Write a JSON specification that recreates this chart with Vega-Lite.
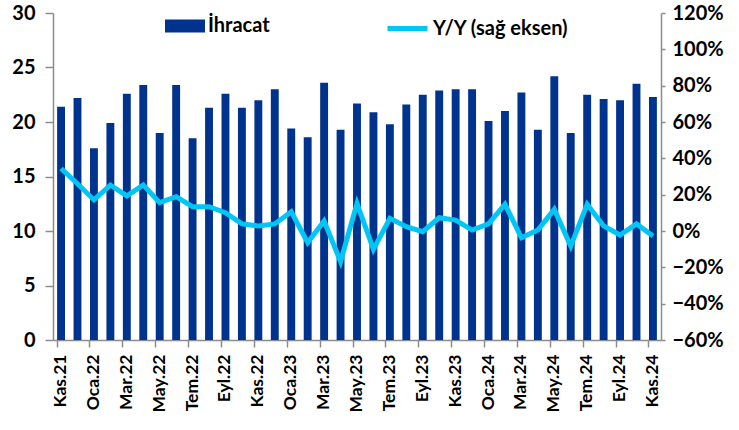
{
  "$schema": "https://vega.github.io/schema/vega-lite/v6.json",
  "autosize": {"type": "none"},
  "padding": {"left": 53, "top": 13, "right": 78, "bottom": 90},
  "width": 608,
  "height": 327,
  "background": "white",
  "config": {
    "view": {"stroke": null},
    "font": "Lato",
    "axis": {"labelFont": "Lato", "labelFontWeight": "bold", "labelColor": "#000000", "domainColor": "#8c8c8c", "tickColor": "#8c8c8c", "grid": false, "title": null, "domainWidth": 1.5, "tickWidth": 1.5},
    "legend": {"labelFont": "Lato", "labelFontWeight": "bold", "labelColor": "#000000", "labelFontSize": 20, "title": null}
  },
  "data": {
    "values": [
      {"ay": "Kas.21", "ihracat": 21.4, "yy": 0.344},
      {"ay": "Ara.21", "ihracat": 22.2, "yy": 0.26},
      {"ay": "Oca.22", "ihracat": 17.6, "yy": 0.171},
      {"ay": "Şub.22", "ihracat": 19.9, "yy": 0.253},
      {"ay": "Mar.22", "ihracat": 22.6, "yy": 0.193},
      {"ay": "Nis.22", "ihracat": 23.4, "yy": 0.253},
      {"ay": "May.22", "ihracat": 19.0, "yy": 0.156},
      {"ay": "Haz.22", "ihracat": 23.4, "yy": 0.189},
      {"ay": "Tem.22", "ihracat": 18.5, "yy": 0.134},
      {"ay": "Ağu.22", "ihracat": 21.3, "yy": 0.134},
      {"ay": "Eyl.22", "ihracat": 22.6, "yy": 0.101},
      {"ay": "Eki.22", "ihracat": 21.3, "yy": 0.039},
      {"ay": "Kas.22", "ihracat": 22.0, "yy": 0.028},
      {"ay": "Ara.22", "ihracat": 23.0, "yy": 0.039},
      {"ay": "Oca.23", "ihracat": 19.4, "yy": 0.106},
      {"ay": "Şub.23", "ihracat": 18.6, "yy": -0.064},
      {"ay": "Mar.23", "ihracat": 23.6, "yy": 0.055},
      {"ay": "Nis.23", "ihracat": 19.3, "yy": -0.169},
      {"ay": "May.23", "ihracat": 21.7, "yy": 0.152},
      {"ay": "Haz.23", "ihracat": 20.9, "yy": -0.101},
      {"ay": "Tem.23", "ihracat": 19.8, "yy": 0.07},
      {"ay": "Ağu.23", "ihracat": 21.6, "yy": 0.024},
      {"ay": "Eyl.23", "ihracat": 22.5, "yy": -0.004},
      {"ay": "Eki.23", "ihracat": 22.9, "yy": 0.073},
      {"ay": "Kas.23", "ihracat": 23.0, "yy": 0.06},
      {"ay": "Ara.23", "ihracat": 23.0, "yy": 0.005},
      {"ay": "Oca.24", "ihracat": 20.1, "yy": 0.039},
      {"ay": "Şub.24", "ihracat": 21.0, "yy": 0.147},
      {"ay": "Mar.24", "ihracat": 22.7, "yy": -0.037},
      {"ay": "Nis.24", "ihracat": 19.3, "yy": 0.005},
      {"ay": "May.24", "ihracat": 24.2, "yy": 0.119},
      {"ay": "Haz.24", "ihracat": 19.0, "yy": -0.083},
      {"ay": "Tem.24", "ihracat": 22.5, "yy": 0.147},
      {"ay": "Ağu.24", "ihracat": 22.1, "yy": 0.028},
      {"ay": "Eyl.24", "ihracat": 22.0, "yy": -0.022},
      {"ay": "Eki.24", "ihracat": 23.5, "yy": 0.039},
      {"ay": "Kas.24", "ihracat": 22.3, "yy": -0.028}
    ]
  },
  "encoding": {
    "x": {
      "field": "ay",
      "type": "ordinal",
      "sort": null,
      "scale": {"paddingInner": 0.52, "paddingOuter": 0.25},
      "axis": {
        "values": ["Kas.21", "Oca.22", "Mar.22", "May.22", "Tem.22", "Eyl.22", "Kas.22", "Oca.23", "Mar.23", "May.23", "Tem.23", "Eyl.23", "Kas.23", "Oca.24", "Mar.24", "May.24", "Tem.24", "Eyl.24", "Kas.24"],
        "bandPosition": 0,
        "labelAngle": -90,
        "labelFontSize": 17.5,
        "labelPadding": 7,
        "tickSize": 7,
        "labelOverlap": false
      }
    }
  },
  "layer": [
    {
      "mark": {"type": "bar"},
      "encoding": {
        "y": {
          "field": "ihracat",
          "type": "quantitative",
          "scale": {"domain": [0, 30]},
          "axis": {"orient": "left", "values": [0, 5, 10, 15, 20, 25, 30], "labelFontSize": 20, "tickSize": 8, "labelPadding": 10}
        },
        "fill": {
          "datum": "İhracat",
          "type": "nominal",
          "scale": {"range": ["#00338D"]},
          "legend": {"orient": "none", "legendX": 112, "legendY": -7, "symbolType": "M-1,-0.32H1V0.32H-1Z", "symbolSize": 1600, "symbolStrokeWidth": 0, "labelOffset": 3}
        }
      }
    },
    {
      "mark": {"type": "line", "strokeWidth": 5, "strokeJoin": "miter", "strokeCap": "butt"},
      "encoding": {
        "y": {
          "field": "yy",
          "type": "quantitative",
          "scale": {"domain": [-0.6, 1.2]},
          "axis": {"orient": "right", "values": [-0.6, -0.4, -0.2, 0, 0.2, 0.4, 0.6, 0.8, 1.0, 1.2], "format": ".0%", "labelFontSize": 20, "tickSize": 4, "labelPadding": 7}
        },
        "stroke": {
          "datum": "Y/Y (sağ eksen)",
          "type": "nominal",
          "scale": {"range": ["#00C5F5"]},
          "legend": {"orient": "none", "legendX": 332, "legendY": -7, "symbolType": "stroke", "symbolSize": 1600, "symbolStrokeWidth": 5, "labelOffset": 3}
        }
      }
    }
  ],
  "resolve": {"scale": {"y": "independent"}}
}
